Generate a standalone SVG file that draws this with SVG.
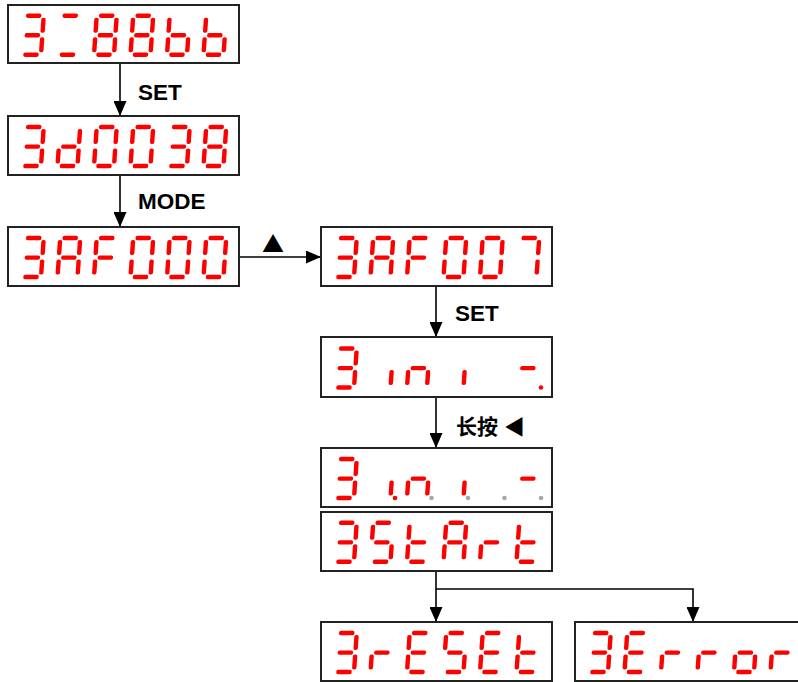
<svg xmlns="http://www.w3.org/2000/svg" xmlns:xlink="http://www.w3.org/1999/xlink" width="798" height="682" viewBox="0 0 798 682">
<style>
.box{fill:#fff;stroke:#222;stroke-width:2}
.s{fill:#ff0000}
.gd{fill:#a8a8a8}
.con{fill:none;stroke:#000;stroke-width:1.6}
.lbl{font-family:"Liberation Sans",Arial,sans-serif;font-weight:bold;font-size:22.5px;fill:#000}
.cjk{font-family:"Noto Sans CJK SC",sans-serif;font-weight:bold;font-size:21px;fill:#000}
.sym{font-family:"Noto Sans CJK SC","DejaVu Sans",sans-serif;font-size:22px;fill:#000}
</style>
<defs>
<marker id="arr" markerUnits="userSpaceOnUse" markerWidth="15" markerHeight="13" viewBox="0 0 15 13" refX="15" refY="6.5" orient="auto">
<path d="M0,0 L15,6.5 L0,13 z" fill="#000"/>
</marker>
<rect id="sa" class="s" x="2.3" y="-41.2" width="15.4" height="4.4" rx="1.8"/>
<rect id="sg" class="s" x="2.3" y="-21.6" width="15.4" height="4.4" rx="1.8"/>
<rect id="sd" class="s" x="2.3" y="-2.2" width="15.4" height="4.4" rx="1.8"/>
<rect id="sf" class="s" x="-2.2" y="-37" width="4.4" height="15" rx="1.8"/>
<rect id="sb" class="s" x="17.8" y="-37" width="4.4" height="15" rx="1.8"/>
<rect id="se" class="s" x="-2.2" y="-17.5" width="4.4" height="15" rx="1.8"/>
<rect id="sc" class="s" x="17.8" y="-17.5" width="4.4" height="15" rx="1.8"/>
<circle id="dpr" class="s" cx="24.5" cy="0" r="2.3"/>
<circle id="dpg" class="gd" cx="24.5" cy="0" r="2.3"/>
<g id="G3" transform="skewX(-4)"><use href="#sa"/><use href="#sb"/><use href="#sg"/><use href="#sc"/><use href="#sd"/></g>
<g id="GAD" transform="skewX(-4)"><use href="#sa"/><use href="#sd"/></g>
<g id="G8" transform="skewX(-4)"><use href="#sa"/><use href="#sb"/><use href="#sc"/><use href="#sd"/><use href="#se"/><use href="#sf"/><use href="#sg"/></g>
<g id="Gb" transform="skewX(-4)"><use href="#sf"/><use href="#se"/><use href="#sg"/><use href="#sc"/><use href="#sd"/></g>
<g id="Gd" transform="skewX(-4)"><use href="#sb"/><use href="#sc"/><use href="#sg"/><use href="#se"/><use href="#sd"/></g>
<g id="G0" transform="skewX(-4)"><use href="#sa"/><use href="#sb"/><use href="#sc"/><use href="#sd"/><use href="#se"/><use href="#sf"/></g>
<g id="GA" transform="skewX(-4)"><use href="#sa"/><use href="#sb"/><use href="#sc"/><use href="#se"/><use href="#sf"/><use href="#sg"/></g>
<g id="GF" transform="skewX(-4)"><use href="#sa"/><use href="#sf"/><use href="#sg"/><use href="#se"/></g>
<g id="G7" transform="skewX(-4)"><use href="#sa"/><use href="#sb"/><use href="#sc"/></g>
<g id="Gi" transform="skewX(-4)"><use href="#sc"/></g>
<g id="Gn" transform="skewX(-4)"><use href="#se"/><use href="#sg"/><use href="#sc"/></g>
<g id="Gm" transform="skewX(-4)"><use href="#sg"/></g>
<g id="GS" transform="skewX(-4)"><use href="#sa"/><use href="#sf"/><use href="#sg"/><use href="#sc"/><use href="#sd"/></g>
<g id="Gt" transform="skewX(-4)"><use href="#sf"/><use href="#se"/><use href="#sg"/><use href="#sd"/></g>
<g id="Gr" transform="skewX(-4)"><use href="#se"/><use href="#sg"/></g>
<g id="GE" transform="skewX(-4)"><use href="#sa"/><use href="#sf"/><use href="#sg"/><use href="#se"/><use href="#sd"/></g>
<g id="Go" transform="skewX(-4)"><use href="#sg"/><use href="#sc"/><use href="#sd"/><use href="#se"/></g>
</defs>
<rect width="798" height="682" fill="#fff"/>

<g id="connectors">
<line class="con" x1="120" y1="64" x2="120" y2="116" marker-end="url(#arr)"/>
<line class="con" x1="120" y1="175" x2="120" y2="227" marker-end="url(#arr)"/>
<line class="con" x1="239" y1="257" x2="321" y2="257" marker-end="url(#arr)"/>
<line class="con" x1="436" y1="286" x2="436" y2="337" marker-end="url(#arr)"/>
<line class="con" x1="436" y1="397" x2="436" y2="448" marker-end="url(#arr)"/>
<line class="con" x1="436" y1="571" x2="436" y2="622" marker-end="url(#arr)"/>
<polyline class="con" points="436,589 693,589 693,622" marker-end="url(#arr)"/>
<text class="lbl" x="138" y="100">SET</text>
<text class="lbl" x="138" y="209">MODE</text>
<text class="sym" x="262" y="252">▲</text>
<text class="lbl" x="455" y="321">SET</text>
<text class="cjk" x="456" y="434">长按<tspan dx="6">◀</tspan></text>
</g>

<g id="n1">
<rect class="box" x="8" y="5" width="231" height="58"/>
<use href="#G3" x="21" y="54.7"/><use href="#GAD" x="57.5" y="54.7"/><use href="#G8" x="94" y="54.7"/><use href="#G8" x="130.5" y="54.7"/><use href="#Gb" x="167" y="54.7"/><use href="#Gb" x="203.5" y="54.7"/>
</g>
<g id="n2">
<rect class="box" x="8" y="116" width="231" height="59"/>
<use href="#G3" x="21" y="166"/><use href="#Gd" x="57.5" y="166"/><use href="#G0" x="94" y="166"/><use href="#G0" x="130.5" y="166"/><use href="#G3" x="167" y="166"/><use href="#G8" x="203.5" y="166"/>
</g>
<g id="n3">
<rect class="box" x="8" y="227" width="231" height="59"/>
<use href="#G3" x="21" y="277"/><use href="#GA" x="57.5" y="277"/><use href="#GF" x="94" y="277"/><use href="#G0" x="130.5" y="277"/><use href="#G0" x="167" y="277"/><use href="#G0" x="203.5" y="277"/>
</g>
<g id="n4">
<rect class="box" x="321" y="227" width="231" height="59"/>
<use href="#G3" x="334" y="277"/><use href="#GA" x="370.5" y="277"/><use href="#GF" x="407" y="277"/><use href="#G0" x="443.5" y="277"/><use href="#G0" x="480" y="277"/><use href="#G7" x="516.5" y="277"/>
</g>
<g id="n5">
<rect class="box" x="321" y="337" width="231" height="60"/>
<use href="#G3" x="334" y="387.5"/><use href="#Gi" x="370.5" y="387.5"/><use href="#Gn" x="407" y="387.5"/><use href="#Gi" x="443.5" y="387.5"/><use href="#Gm" x="516.5" y="387.5"/><use href="#dpr" x="516.5" y="387.5"/>
</g>
<g id="n6">
<rect class="box" x="321" y="448" width="231" height="59"/>
<use href="#G3" x="334" y="498"/><use href="#Gi" x="370.5" y="498"/><use href="#dpr" x="370.5" y="498"/><use href="#Gn" x="407" y="498"/><use href="#dpg" x="407" y="498"/><use href="#Gi" x="443.5" y="498"/><use href="#dpg" x="443.5" y="498"/><use href="#dpg" x="480" y="498"/><use href="#Gm" x="516.5" y="498"/><use href="#dpg" x="516.5" y="498"/>
</g>
<g id="n7">
<rect class="box" x="321" y="512" width="231" height="59"/>
<use href="#G3" x="334" y="561.8"/><use href="#GS" x="370.5" y="561.8"/><use href="#Gt" x="407" y="561.8"/><use href="#GA" x="443.5" y="561.8"/><use href="#Gr" x="480" y="561.8"/><use href="#Gt" x="516.5" y="561.8"/>
</g>
<g id="n8">
<rect class="box" x="321" y="622" width="231" height="59"/>
<use href="#G3" x="334" y="672"/><use href="#Gr" x="370.5" y="672"/><use href="#GE" x="407" y="672"/><use href="#GS" x="443.5" y="672"/><use href="#GE" x="480" y="672"/><use href="#Gt" x="516.5" y="672"/>
</g>
<g id="n9">
<rect class="box" x="575" y="622" width="240" height="59"/>
<use href="#G3" x="588" y="672"/><use href="#GE" x="624.5" y="672"/><use href="#Gr" x="661" y="672"/><use href="#Gr" x="697.5" y="672"/><use href="#Go" x="734" y="672"/><use href="#Gr" x="770.5" y="672"/>
</g>
</svg>
